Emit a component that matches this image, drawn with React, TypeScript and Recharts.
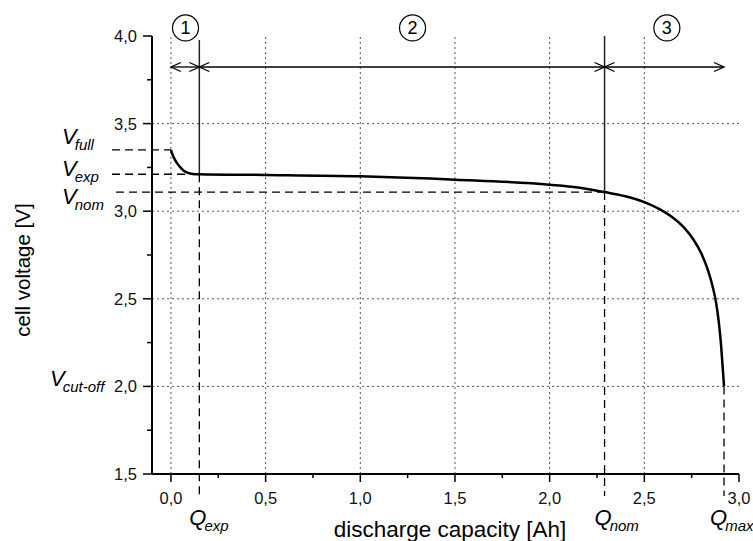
import { LineChart, Line, XAxis, YAxis, ReferenceLine, ReferenceDot } from 'recharts';

// discharge curve
const capacityAh = [0, 0.01, 0.02, 0.035, 0.05, 0.07, 0.09, 0.115, 0.15, 0.5, 1.0, 1.5, 2.0, 2.15, 2.29, 2.4, 2.5, 2.58, 2.65, 2.71, 2.76, 2.8, 2.835, 2.86, 2.88, 2.893, 2.905, 2.913, 2.921];
const cellVoltage = [3.35, 3.318, 3.296, 3.27, 3.25, 3.229, 3.219, 3.213, 3.211, 3.207, 3.199, 3.18, 3.151, 3.135, 3.109, 3.085, 3.052, 3.012, 2.964, 2.906, 2.837, 2.761, 2.667, 2.574, 2.472, 2.37, 2.24, 2.12, 2.0];

const xMajorTicks = [0, 0.5, 1.0, 1.5, 2.0, 2.5, 3.0];
const xMinorTicks = [0.25, 0.75, 1.25, 1.75, 2.25, 2.75];
const yMajorTicks = [1.5, 2.0, 2.5, 3.0, 3.5, 4.0];
const yMinorTicks = [1.75, 2.25, 2.75, 3.25, 3.75];
const xGrid = [0, 0.5, 1.0, 1.5, 2.0, 2.5];
const yGrid = [2.0, 2.5, 3.0, 3.5];

// characteristic points
const Q_EXP = 0.15;
const Q_NOM = 2.29;
const Q_MAX = 2.921;
const V_FULL = 3.35;
const V_EXP = 3.211;
const V_NOM = 3.109;
const V_CUTOFF = 2.0;

const regionLabels = ['1', '2', '3'];
const regionCenters = [0.077, 1.276, 2.619];

const data = capacityAh.map((q, i) => ({ q, v: cellVoltage[i] }));

const FONT = '"Liberation Sans", Arial, sans-serif';
const fmt = (v: number) => v.toFixed(1).replace('.', ',');

const XTick = ({ x, y, payload }: any) => {
  const major = xMajorTicks.includes(payload.value);
  return (
    <g>
      <line x1={x} x2={x} y1={y} y2={y + (major ? 8 : 4)} stroke="#000" strokeWidth={1.5} />
      {major && (
        <text x={x} y={y + 30} textAnchor="middle" fontSize={16.5} fontFamily={FONT} fill="#111">
          {fmt(payload.value)}
        </text>
      )}
    </g>
  );
};

const YTick = ({ x, y, payload }: any) => {
  const major = yMajorTicks.includes(payload.value);
  return (
    <g>
      <line x1={x - (major ? 9 : 5)} x2={x} y1={y} y2={y} stroke="#000" strokeWidth={1.5} />
      {major && (
        <text x={x - 15} y={y + 6} textAnchor="end" fontSize={16.5} fontFamily={FONT} fill="#111">
          {fmt(payload.value)}
        </text>
      )}
    </g>
  );
};

// italic symbol with subscript, e.g. V_full
const subLabel = (main: string, sub: string, dx: number, dy: number, fromBottom = false) =>
  (props: any) => {
    const vb = props.viewBox;
    const x = vb.x + dx;
    const y = (fromBottom ? vb.y + vb.height : vb.y) + dy;
    return (
      <text x={x} y={y} fontFamily={FONT} fontStyle="italic" fill="#000">
        <tspan fontSize={22}>{main}</tspan>
        <tspan fontSize={15} dx={-2} dy={6}>{sub}</tspan>
      </text>
    );
  };

// double headed arrow with open heads
const arrowShape = (props: any) => {
  const { x1, y1, x2, y2 } = props;
  const a = Math.min(x1, x2);
  const b = Math.max(x1, x2);
  return (
    <g fill="none" stroke="#000" strokeWidth={1.3}>
      <line x1={a} y1={y1} x2={b} y2={y2} />
      <path d={`M${a + 10},${y1 - 4.5} L${a},${y1} L${a + 10},${y1 + 4.5}`} />
      <path d={`M${b - 10},${y2 - 4.5} L${b},${y2} L${b - 10},${y2 + 4.5}`} />
    </g>
  );
};

const ARROW_V = 3.823;
const LINE_BOTTOM = 1.375;
const LINE_LEFT = -0.311;

export default function App() {
  return (
    <div style={{ position: 'absolute', left: 0, top: 0, background: '#fff' }}>
      <LineChart width={753} height={541} data={data} margin={{ top: 36, right: 14, bottom: 37, left: 92 }}>
        <XAxis
          dataKey="q"
          type="number"
          domain={[-0.1, 3.0]}
          ticks={[...xMajorTicks, ...xMinorTicks].sort((a, b) => a - b)}
          interval={0}
          height={30}
          tickSize={0}
          tickMargin={0}
          tickLine={false}
          tick={<XTick />}
          axisLine={{ stroke: '#000', strokeWidth: 2 }}
          label={(p: any) => (
            <text x={p.viewBox.x + 298} y={p.viewBox.y + 62.5} textAnchor="middle" fontSize={22.5} fontFamily={FONT} fill="#000">
              discharge capacity [Ah]
            </text>
          )}
        />
        <YAxis
          type="number"
          domain={[1.5, 4.0]}
          ticks={[...yMajorTicks, ...yMinorTicks].sort((a, b) => a - b)}
          interval={0}
          width={60}
          tickSize={0}
          tickMargin={0}
          tickLine={false}
          tick={<YTick />}
          axisLine={{ stroke: '#000', strokeWidth: 2 }}
          label={(p: any) => {
            const cx = 30;
            const cy = p.viewBox.y + p.viewBox.height / 2 + 15;
            return (
              <text x={cx} y={cy} transform={`rotate(-90, ${cx}, ${cy})`} textAnchor="middle" fontSize={20.5} fontFamily={FONT} fill="#000">
                cell voltage [V]
              </text>
            );
          }}
        />

        {xGrid.map((v) => (
          <ReferenceLine key={`gx-${v}`} x={v} stroke="#555" strokeWidth={1} strokeDasharray="2 3" />
        ))}
        {yGrid.map((v) => (
          <ReferenceLine
            key={`gy-${v}`}
            y={v}
            stroke="#555"
            strokeWidth={1}
            strokeDasharray="2 3"
            label={v === V_CUTOFF ? subLabel('V', 'cut-off', -102, 0) : undefined}
          />
        ))}

        {/* horizontal dashed markers */}
        <ReferenceLine segment={[{ x: LINE_LEFT, y: V_FULL }, { x: 0, y: V_FULL }]} ifOverflow="visible" stroke="#000" strokeWidth={1.3} strokeDasharray="8 5" label={subLabel('V', 'full', -50, -6)} />
        <ReferenceLine segment={[{ x: LINE_LEFT, y: V_EXP }, { x: Q_EXP, y: V_EXP }]} ifOverflow="visible" stroke="#000" strokeWidth={1.3} strokeDasharray="8 5" label={subLabel('V', 'exp', -50, 2)} />
        <ReferenceLine segment={[{ x: -0.29, y: V_NOM }, { x: Q_NOM, y: V_NOM }]} ifOverflow="visible" stroke="#000" strokeWidth={1.3} strokeDasharray="8 5" label={subLabel('V', 'nom', -54, 12)} />

        {/* vertical dashed markers */}
        <ReferenceLine segment={[{ x: Q_EXP, y: V_EXP }, { x: Q_EXP, y: LINE_BOTTOM }]} ifOverflow="visible" stroke="#000" strokeWidth={1.3} strokeDasharray="8 5" label={subLabel('Q', 'exp', -10, 29, true)} />
        <ReferenceLine segment={[{ x: Q_NOM, y: V_NOM }, { x: Q_NOM, y: LINE_BOTTOM }]} ifOverflow="visible" stroke="#000" strokeWidth={1.3} strokeDasharray="8 5" label={subLabel('Q', 'nom', -10, 29, true)} />
        <ReferenceLine segment={[{ x: Q_MAX, y: V_CUTOFF }, { x: Q_MAX, y: LINE_BOTTOM }]} ifOverflow="visible" stroke="#000" strokeWidth={1.3} strokeDasharray="8 5" label={subLabel('Q', 'max', -14, 29, true)} />

        {/* region boundaries */}
        <ReferenceLine segment={[{ x: Q_EXP, y: 3.977 }, { x: Q_EXP, y: V_EXP }]} ifOverflow="visible" stroke="#222" strokeWidth={1.5} />
        <ReferenceLine segment={[{ x: Q_NOM, y: 4.0 }, { x: Q_NOM, y: V_NOM }]} ifOverflow="visible" stroke="#222" strokeWidth={1.5} />

        {/* region arrows */}
        <ReferenceLine segment={[{ x: 0, y: ARROW_V }, { x: Q_EXP, y: ARROW_V }]} ifOverflow="visible" shape={arrowShape} />
        <ReferenceLine segment={[{ x: Q_EXP, y: ARROW_V }, { x: Q_NOM, y: ARROW_V }]} ifOverflow="visible" shape={arrowShape} />
        <ReferenceLine segment={[{ x: Q_NOM, y: ARROW_V }, { x: Q_MAX, y: ARROW_V }]} ifOverflow="visible" shape={arrowShape} />

        {regionLabels.map((t, i) => (
          <ReferenceDot
            key={`reg-${t}`}
            x={regionCenters[i]}
            y={4.046}
            r={13}
            ifOverflow="visible"
            fill="#fff"
            stroke="#000"
            strokeWidth={1.2}
            label={{ value: t, position: 'center', fontSize: 18, fill: '#000', fontFamily: FONT }}
          />
        ))}

        <Line
          dataKey="v"
          type="monotone"
          stroke="#000"
          strokeWidth={2.5}
          dot={false}
          activeDot={false}
          isAnimationActive={false}
        />
      </LineChart>
    </div>
  );
}
